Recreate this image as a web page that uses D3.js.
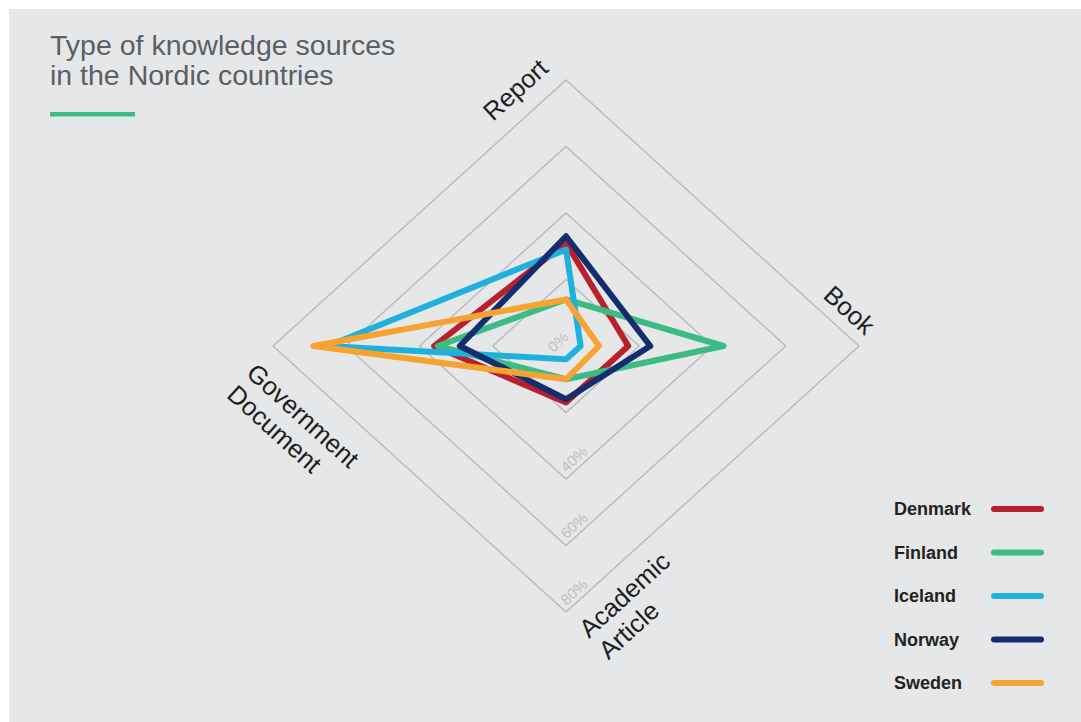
<!DOCTYPE html>
<html>
<head>
<meta charset="utf-8">
<script src="https://cdn.jsdelivr.net/npm/d3@7"></script>
<style>
  body { margin: 0; background: #fff; }
  text { font-family: "Liberation Sans", Arial, sans-serif; }
</style>
</head>
<body>
<div id="main"></div>
<script>
const ctx = { w: 1081, h: 722 };

// categories (clockwise from top)
const axisNames = ["Report", "Book", "Academic Article", "Government Document"];
const axisLines = [["Report"], ["Book"], ["Academic", "Article"], ["Government", "Document"]];

// series, % per axis in the same order
const countries = ["Denmark", "Finland", "Iceland", "Norway", "Sweden"];
const denmark = [31, 17, 17, 36];
const finland = [14, 43, 10, 35];
const iceland = [29, 4, 4, 65];
const norway  = [33, 23, 16, 29];
const sweden  = [14, 9, 10, 69];
const colors  = ["#b8202d", "#3dbb85", "#1eb1de", "#132d6e", "#f8a331"];

// grid rings and their labels
const rings = [20, 40, 60, 80];
const tickValues = [0, 40, 60, 80];
const tickLabels = ["0%", "40%", "60%", "80%"];

function createRadar(svgEl) {
    const cx = 566, cy = 346;
    const rx = d3.scaleLinear().domain([0, 80]).range([0, 293]);
    const ry = d3.scaleLinear().domain([0, 80]).range([0, 266]);
    const dirs = [[0, -1], [1, 0], [0, 1], [-1, 0]];
    const pt = (v, i) => [cx + dirs[i][0] * rx(v), cy + dirs[i][1] * ry(v)];
    const ang = Math.atan(ry(80) / rx(80)) * 180 / Math.PI;

    const line = d3.line().curve(d3.curveLinearClosed);

    // rings
    svgEl.append("g").selectAll("path")
        .data(rings)
        .enter().append("path")
        .attr("d", r => line(dirs.map((d, i) => pt(r, i))))
        .attr("fill", "none")
        .attr("stroke", "#b7b8b9")
        .attr("stroke-width", 1.3);

    // ring labels
    svgEl.append("g").selectAll("text")
        .data(tickValues)
        .enter().append("text")
        .attr("transform", (v, i) => {
            const p = pt(v, 2);
            const off = v === 0 ? [-8, -4] : [8, -20];
            return `translate(${p[0] + off[0]},${p[1] + off[1]}) rotate(${-ang})`;
        })
        .attr("text-anchor", "middle")
        .attr("dy", "0.35em")
        .style("font-size", "15px")
        .style("fill", "#bfc0c1")
        .text((v, i) => tickLabels[i]);

    // series
    const series = [denmark, finland, iceland, norway, sweden];
    svgEl.append("g").selectAll("path")
        .data(series)
        .enter().append("path")
        .attr("d", s => line(s.map((v, i) => pt(v, i))))
        .attr("fill", "none")
        .attr("stroke", (s, i) => colors[i])
        .attr("stroke-width", 6)
        .attr("stroke-linejoin", "round");

    // axis labels
    const labelOff = [[-73, 42], [-37, -49], [23, 27], [-28, 29]];
    const labelRot = [-ang, ang, -ang, ang];
    axisLines.forEach((lines, i) => {
        const p = pt(80, i);
        const g = svgEl.append("g")
            .attr("transform", `translate(${p[0] + labelOff[i][0]},${p[1] + labelOff[i][1]}) rotate(${labelRot[i]})`);
        lines.forEach((t, j) => {
            g.append("text")
             .attr("x", 0)
             .attr("y", j * 29)
             .style("font-size", "25.5px")
             .style("fill", "#1e1e1e")
             .text(t);
        });
    });
}

function createLegend(svgEl) {
    const y = d3.scalePoint().domain(countries).range([509, 683]);
    const rows = svgEl.append("g").selectAll("g")
        .data(countries)
        .enter().append("g")
        .attr("transform", d => `translate(0,${y(d)})`);
    rows.append("text")
        .attr("x", 894)
        .attr("dy", "0.35em")
        .style("font-size", "18px")
        .style("font-weight", "bold")
        .style("fill", "#222")
        .text(d => d);
    rows.append("line")
        .attr("x1", 994).attr("x2", 1041)
        .attr("stroke", (d, i) => colors[i])
        .attr("stroke-width", 6)
        .attr("stroke-linecap", "round");
}

function createViz() {
    const svgEl = d3.select("#main").append("svg")
        .attr("width", ctx.w)
        .attr("height", ctx.h);

    svgEl.append("rect")
        .attr("x", 9).attr("y", 9)
        .attr("width", ctx.w - 9).attr("height", ctx.h - 9)
        .attr("fill", "#e6e7e8");

    const title = svgEl.append("text")
        .attr("x", 50)
        .attr("y", 55)
        .style("font-size", "28.5px")
        .style("fill", "#5a5f64");
    title.append("tspan").attr("x", 50).text("Type of knowledge sources");
    title.append("tspan").attr("x", 50).attr("dy", 30).text("in the Nordic countries");

    svgEl.append("rect")
        .attr("x", 50).attr("y", 112)
        .attr("width", 85).attr("height", 4.5)
        .attr("fill", "#3dbb85");

    createRadar(svgEl);
    createLegend(svgEl);
}

createViz();
</script>
</body>
</html>
